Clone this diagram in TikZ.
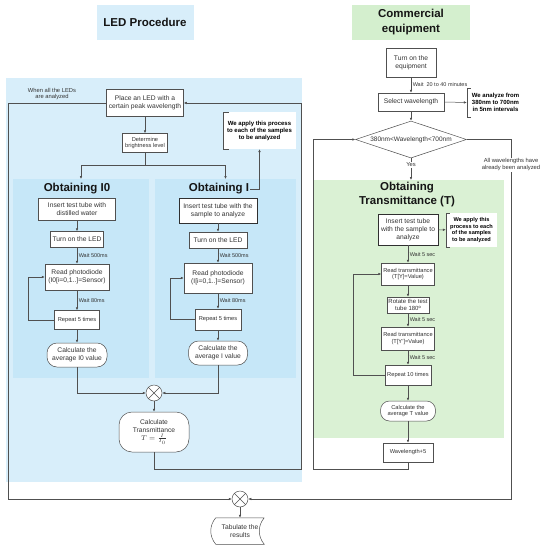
\documentclass[tikz,border=0pt]{standalone}
\usepackage{fontspec}
\setmainfont{Liberation Sans}
\usetikzlibrary{shapes.geometric,arrows.meta}
\definecolor{ledblue}{HTML}{D8EEFA}
\definecolor{innerblue}{HTML}{C6E7F8}
\definecolor{tgreen}{HTML}{DAF1D4}
\definecolor{titlegreen}{HTML}{D4EFCE}
\definecolor{linegray}{HTML}{505050}
\definecolor{boxgray}{HTML}{505050}
\definecolor{boxdark}{HTML}{303030}
\definecolor{txtgray}{HTML}{333333}
\definecolor{titleblack}{HTML}{151515}

\begin{document}
\begin{tikzpicture}[x=1pt, y=-1pt, >={Latex[length=3pt,width=2.6pt]},
  wh/.style 2 args={minimum width=#1pt, minimum height=#2pt},
  panel/.style={inner sep=0pt, outer sep=0pt},
  procbox/.style={draw=boxgray, line width=0.5pt, fill=white, align=center, inner sep=1pt, text=txtgray, font=\fontsize{6.7}{7.8}\selectfont},
  smallbox/.style={procbox, font=\fontsize{5.7}{6.7}\selectfont},
  thickbox/.style={procbox, draw=boxdark, line width=0.9pt},
  roundbox/.style={procbox, rounded corners=10pt},
  notebox/.style={fill=white, align=center, inner sep=1pt, text=black, font=\bfseries\fontsize{6}{7}\selectfont},
  waitlabel/.style={anchor=west, inner sep=1.5pt, text=txtgray, font=\fontsize{5.5}{6.5}\selectfont},
  plainlabel/.style={align=center, inner sep=1pt, text=txtgray, font=\fontsize{5.8}{6.8}\selectfont},
  titletxt/.style={align=center, inner sep=1pt, text=titleblack, font=\bfseries\fontsize{11.5}{14.5}\selectfont},
  sumnode/.style={circle, draw=linegray, line width=0.5pt, fill=white, minimum size=16pt, inner sep=0pt},
  flow/.style={->, draw=linegray, line width=0.5pt},
  plainline/.style={draw=linegray, line width=0.5pt}]
  \useasboundingbox (0,0) rectangle (544,550);

  % background panels
  \node[panel, fill=ledblue, wh={296}{404}] (ledpanel) at (154,280) {};
  \node[panel, fill=innerblue, wh={136}{199}] (panelzero) at (81,278.5) {};
  \node[panel, fill=innerblue, wh={141}{199}] (panelone) at (225.5,278.5) {};
  \node[panel, fill=tgreen, wh={190}{258}] (tpanel) at (409,309) {};

  % titles
  \node[titletxt, fill=ledblue, wh={97}{35}] (ledtitle) at (145,22) {LED Procedure};
  \node[titletxt, fill=titlegreen, wh={118}{35}] (comtitle) at (411,22) {Commercial\\equipment};
  \node[titletxt] (titlezero) at (77,189) {Obtaining I0};
  \node[titletxt] (titleone) at (219,189) {Obtaining I};
  \node[titletxt] (titlet) at (407,194.5) {Obtaining\\Transmittance (T)};

  % LED procedure
  \node[procbox, wh={77}{27}] (place) at (145,103) {Place an LED with a\\certain peak wavelength};
  \node[smallbox, wh={45}{19}] (bright) at (145,143) {Determine\\brightness level};
  \node[plainlabel] (allleds) at (52,94) {When all the LEDs\\are analyzed};
  \node[notebox, wh={73}{37}] (noteone) at (259.5,130.5) {We apply this process\\to each of the samples\\to be analyzed};
  \draw[plainline] ([xshift=6pt]noteone.north west) -- (noteone.north west) -- (noteone.south west) -- ([xshift=6pt]noteone.south west);

  \node[procbox, wh={77}{22}] (insertzero) at (77,209) {Insert test tube with\\distilled water};
  \node[procbox, wh={53}{16}] (ledzero) at (77,239.5) {Turn on the LED};
  \node[procbox, wh={64}{26}] (readzero) at (77,277) {Read photodiode\\(I0[i=0,1..]=Sensor)};
  \node[smallbox, wh={45}{19}] (repeatzero) at (77,320) {Repeat 5 times};
  \node[roundbox, wh={60}{24}] (avgzero) at (77,355) {Calculate the\\average I0 value};

  \node[thickbox, wh={78}{25}] (insertone) at (218,210.5) {Insert test tube with the\\sample to analyze};
  \node[procbox, wh={58}{16}] (ledone) at (218,240) {Turn on the LED};
  \node[procbox, wh={68}{30}] (readone) at (218,278) {Read photodiode\\(I[i=0,1..]=Sensor)};
  \node[smallbox, wh={46}{21}] (repeatone) at (218,319.5) {Repeat 5 times};
  \node[roundbox, wh={59}{24}] (avgone) at (218,353) {Calculate the\\average I value};

  \node[sumnode] (sumled) at (154,393) {};
  \node[roundbox, rounded corners=13pt, wh={70}{40}] (calct) at (154,432) {Calculate\\Transmittance\\$T=\frac{I}{I_0}$};

  % commercial equipment
  \node[procbox, wh={50}{29}] (turnon) at (411,62.5) {Turn on the\\equipment};
  \node[procbox, wh={66}{18}] (select) at (411,102) {Select wavelength};
  \node[notebox, fill=none, wh={57}{29}] (noterange) at (495.5,102.5) {We analyze from\\380nm to 700nm\\in 5nm intervals};
  \draw[plainline] ([xshift=4pt]noterange.north west) -- (noterange.north west) -- (noterange.south west) -- ([xshift=4pt]noterange.south west);
  \node[procbox, diamond, aspect=3, inner sep=0pt, wh={111}{37}, font=\fontsize{6.5}{7.5}\selectfont] (wl) at (411,139.5) {380nm<Wavelength<700nm};

  \node[thickbox, wh={60}{31}] (insertt) at (408,229.5) {Insert test tube\\with the sample to\\analyze};
  \node[notebox, font=\bfseries\fontsize{5.6}{6.7}\selectfont, wh={51}{34}] (notet) at (471.5,230) {We apply this\\process to each\\of the samples\\to be analyzed};
  \draw[plainline] ([xshift=4pt]notet.north west) -- (notet.north west) -- (notet.south west) -- ([xshift=4pt]notet.south west);
  \node[smallbox, wh={53}{22}] (readt) at (408,274) {Read transmittance\\(T[Y]=Value)};
  \node[smallbox, font=\fontsize{6}{7}\selectfont, wh={42}{16}] (rotatet) at (408,305) {Rotate the test\\tube 180º};
  \node[smallbox, wh={53}{23}] (readtt) at (408,338.5) {Read transmittance\\(T[Y']=Value)};
  \node[smallbox, wh={46}{20}] (repeatt) at (408,375) {Repeat 10 times};
  \node[smallbox, rounded corners=9pt, wh={55}{20}] (avgt) at (408,411) {Calculate the\\average T value};
  \node[smallbox, wh={50}{19}] (wlplus) at (408,452.5) {Wavelength+5};

  % end
  \node[sumnode] (sumall) at (240,499) {};
  \node[procbox, draw=none, fill=none, wh={48}{26}] (tabulate) at (240,531) {Tabulate the\\results};
  \draw[plainline] (tabulate.north east) -- (tabulate.north west) to[bend right=40] (tabulate.south west) -- (tabulate.south east) to[bend left=40] (tabulate.north east);
  \foreach \j in {sumled,sumall}
    \draw[plainline] (\j.north east) -- (\j.south west) (\j.north west) -- (\j.south east);

  % connectors, LED side
  \coordinate (split) at (145,165);
  \coordinate (ledret) at (301,469);
  \coordinate (ledout) at (8,499);
  \draw[flow] (place) -- (bright);
  \draw[plainline] (bright) -- (split);
  \draw[flow] (split) -| (panelzero.north);
  \draw[flow] (split) -| (panelone.north);
  \draw[flow] (titleone.east) -| (noteone.south);
  \draw[flow] (insertzero) -- (ledzero);
  \draw[flow] (ledzero) -- node[waitlabel] {Wait 500ms} (readzero);
  \draw[flow] (readzero) -- node[waitlabel] {Wait 80ms} (repeatzero);
  \draw[flow] (repeatzero) -- (avgzero);
  \draw[flow] (repeatzero.west) -- ++(-26,0) |- (readzero.west);
  \draw[flow] (insertone) -- (ledone);
  \draw[flow] (ledone) -- node[waitlabel] {Wait 500ms} (readone);
  \draw[flow] (readone) -- node[waitlabel] {Wait 80ms} (repeatone);
  \draw[flow] (repeatone) -- (avgone);
  \draw[flow] (repeatone.west) -- ++(-25,0) |- (readone.west);
  \draw[flow] (avgzero.south) |- (sumled.west);
  \draw[flow] (avgone.south) |- (sumled.east);
  \draw[flow] (sumled) -- (calct);
  \draw[flow] (calct.south) |- (ledret) |- (place.east);
  \draw[flow] (place.west) -| (ledout) -- (sumall.west);

  % connectors, commercial side
  \coordinate (wlret) at (313,469);
  \coordinate (wlout) at (511,499);
  \draw[flow] (turnon) -- node[waitlabel] {Wait\ \ 20 to 40 minutes} (select);
  \draw[flow] (select.east) -- (noterange.west);
  \draw[flow] (select) -- (wl);
  \draw[flow] (wl.south) -- node[plainlabel, fill=white, pos=0.3] {Yes} (wl.south |- tpanel.north);
  \draw[flow] (insertt) -- (notet);
  \draw[flow] (insertt) -- node[waitlabel] {Wait 5 sec} (readt);
  \draw[flow] (readt) -- (rotatet);
  \draw[flow] (rotatet) -- node[waitlabel] {Wait 5 sec} (readtt);
  \draw[flow] (readtt) -- node[waitlabel] {Wait 5 sec} (repeatt);
  \draw[flow] (repeatt.west) -- ++(-32,0) |- (readt.west);
  \draw[flow] (repeatt) -- (avgt);
  \draw[flow] (avgt) -- (wlplus);
  \draw[flow] (wlplus.south) |- (wlret) |- (wl.west);
  \draw[flow] (wl.east) -| node[plainlabel, fill=white, pos=0.535] {All wavelengths have\\already been analyzed} (wlout) -- (sumall.east);
  \draw[flow] (sumall) -- (tabulate);
\end{tikzpicture}
\end{document}
